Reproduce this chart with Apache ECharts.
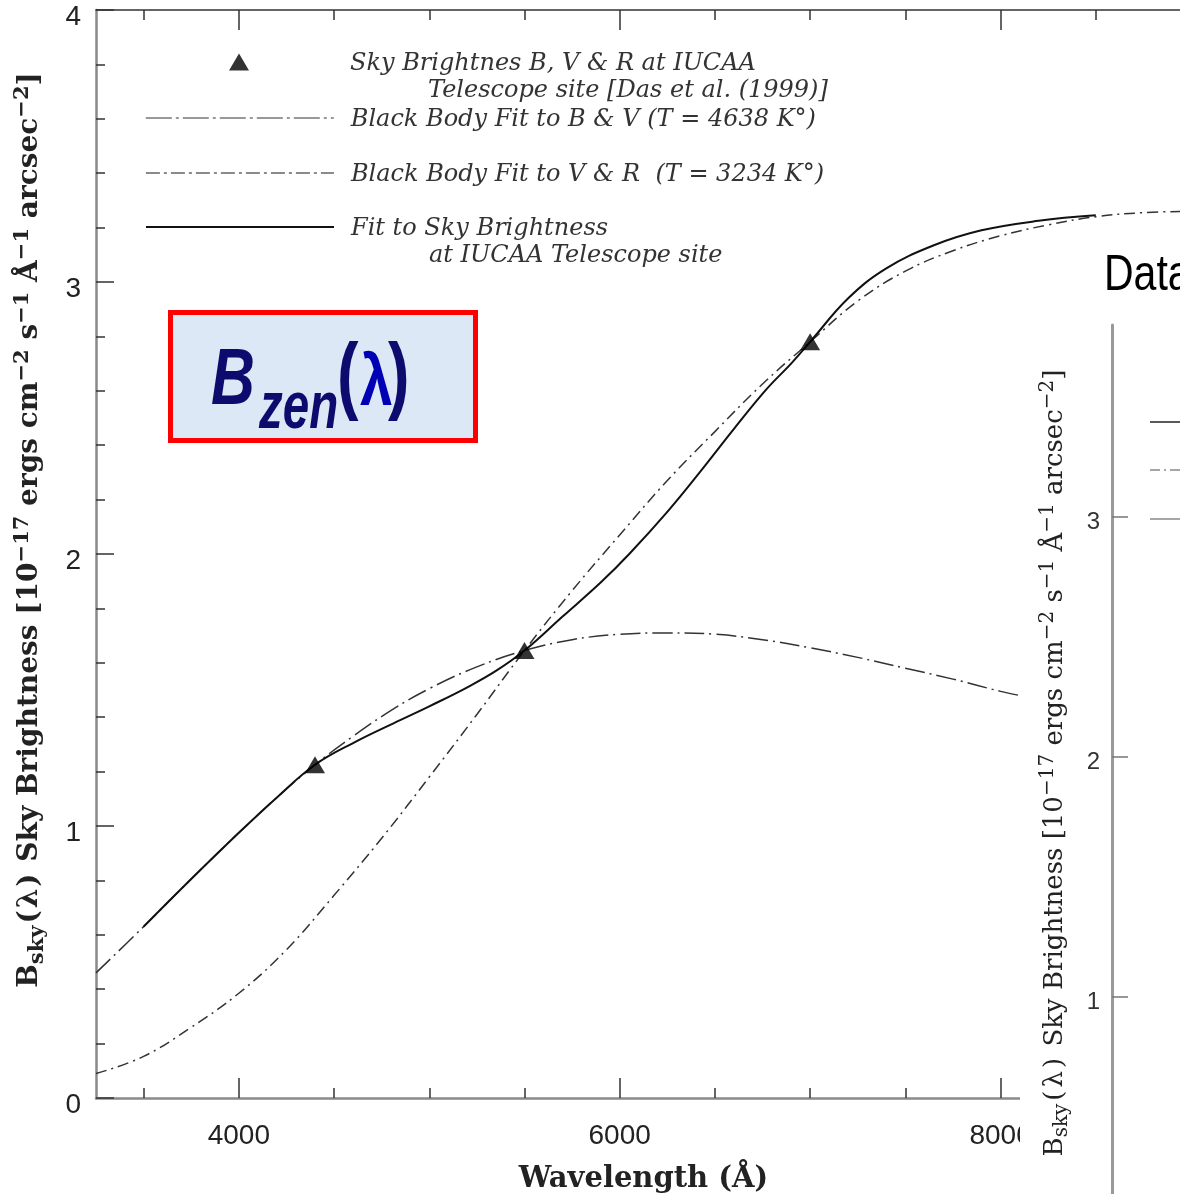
<!DOCTYPE html>
<html>
<head>
<meta charset="utf-8">
<script src="https://cdn.jsdelivr.net/npm/echarts@6/dist/echarts.min.js"></script>
<style>
  html, body { margin: 0; padding: 0; background: #ffffff; }
  #chart { width: 1180px; height: 1194px; }
</style>
</head>
<body>
<div id="chart"></div>
<script>
// Sky brightness at the IUCAA telescope site, 10^-17 ergs cm^-2 s^-1 Å^-1 arcsec^-2 vs wavelength (Å)

// Broad-band measurements (B, V, R)
const bandWavelength = [4400, 5500, 7000];
const bandBrightness = [1.225, 1.645, 2.78];

// Black body fit to B & V (T = 4638 K)
const bbBVWavelength = [3250, 3500, 3750, 4000, 4200, 4400, 4600, 4800, 5000, 5250, 5500, 5750,
                        6000, 6250, 6500, 6750, 7000, 7250, 7500, 7750, 8000, 8100];
const bbBVValue      = [0.46, 0.63, 0.805, 0.975, 1.105, 1.225, 1.33, 1.425, 1.505, 1.585, 1.645, 1.685,
                        1.705, 1.71, 1.705, 1.685, 1.655, 1.62, 1.58, 1.54, 1.495, 1.48];

// Black body fit to V & R (T = 3234 K)
const bbVRWavelength = [3250, 3500, 3750, 4000, 4250, 4500, 4750, 5000, 5250, 5500, 5750, 6000,
                        6250, 6500, 6750, 7000, 7250, 7500, 7750, 8000, 8250, 8500, 8750, 9000];
const bbVRValue      = [0.09, 0.153, 0.26, 0.385, 0.545, 0.745, 0.955, 1.18, 1.41, 1.645, 1.865, 2.07,
                        2.27, 2.45, 2.625, 2.78, 2.93, 3.04, 3.115, 3.17, 3.21, 3.24, 3.255, 3.26];

// Fit to the sky brightness
const fitWavelength = [3500, 3750, 4000, 4200, 4400, 4600, 4850, 5000, 5200, 5350, 5500, 5700,
                       5900, 6050, 6250, 6420, 6600, 6770, 6900, 7000, 7200, 7400, 7650, 7900, 8200, 8500];
const fitValue      = [0.63, 0.805, 0.975, 1.105, 1.225, 1.305, 1.39, 1.44, 1.51, 1.57, 1.645, 1.77,
                       1.895, 2.0, 2.155, 2.30, 2.46, 2.605, 2.70, 2.78, 2.94, 3.05, 3.135, 3.19, 3.225, 3.245];

// Axis ticks
const xMajorTicks = [4000, 6000, 8000];
const xMinorTicks = [3500, 4500, 5000, 5500, 6500, 7000, 7500, 8500];
const insetMajorTicks = [1, 2, 3];
const insetMinorTicks = [0.2, 0.4, 0.6, 0.8, 1.2, 1.4, 1.6, 1.8, 2.2, 2.4, 2.6, 2.8, 3.2, 3.4, 3.6];

// Legend entries
const seriesNames = [
  'Sky Brightnes B, V & R at IUCAA',
  'Black Body Fit to B & V (T = 4638 K°)',
  'Black Body Fit to V & R  (T = 3234 K°)',
  'Fit to Sky Brightness'
];
const legendSecondLines = ['Telescope site [Das et al. (1999)]', '', '', 'at IUCAA Telescope site'];

const pairs = (xs, ys) => xs.map((x, i) => [x, ys[i]]);

const chart = echarts.init(document.getElementById('chart'));

const tickFont = 'Liberation Sans, Arial, sans-serif';
const serifFont = 'DejaVu Serif, serif';
const legendFont = { fontFamily: serifFont, fontStyle: 'italic', fontSize: 24, color: '#333', lineHeight: 27 };

const dashBV = [20, 5, 2, 5];
const dashVR = [11, 5, 2, 5];

// One legend block per entry; the text column starts at x = 350
function legendFor(idx, symbolY, iconLeft, iconWidth, iconHeight, extra) {
  const twoLines = !!legendSecondLines[idx];
  const textPadLeft = 350 - (iconLeft + iconWidth + 5);
  return Object.assign({
    data: [seriesNames[idx]],
    left: iconLeft, top: symbolY - (twoLines ? 42.5 : 15.5), padding: 0,
    itemWidth: iconWidth, itemHeight: iconHeight, itemGap: 0,
    formatter: function (name) {
      const i = seriesNames.indexOf(name);
      return legendSecondLines[i] ? '{a|' + name + '}\n{b|' + legendSecondLines[i] + '}' : '{a|' + name + '}';
    },
    textStyle: Object.assign({}, legendFont, {
      padding: twoLines ? [31, 0, 0, textPadLeft] : [4, 0, 0, textPadLeft],
      rich: {
        a: Object.assign({}, legendFont),
        b: Object.assign({}, legendFont, { padding: [0, 0, 0, 78] })
      }
    })
  }, extra || {});
}

function yTitleText() {
  return '{m|B}{sub|sky}{p|(}{m|λ}{p|)}{m| Sky Brightness [10}{sup|−17}{m| ergs cm}{sup|−2}{m| s}{sup|−1}' +
         '{m| Å}{sup|−1}{m| arcsec}{sup|−2}{m|]}';
}
function yTitleRich(size, small, weight, parenPad) {
  const base = { fontFamily: serifFont, fontWeight: weight, fill: '#222' };
  return {
    m: Object.assign({ fontSize: size, lineHeight: size + 8 }, base),
    p: Object.assign({ fontSize: size, lineHeight: size + 8, padding: [0, parenPad, 0, parenPad] }, base),
    sup: Object.assign({ fontSize: small, lineHeight: small, verticalAlign: 'top' }, base),
    sub: Object.assign({ fontSize: small, lineHeight: small, verticalAlign: 'bottom' }, base)
  };
}

const option = {
  animation: false,
  backgroundColor: '#ffffff',
  grid: [
    { left: 96, top: 10, width: 1095, height: 1088, outerBoundsMode: 'none', containLabel: false },
    { left: 1112, top: 325, width: 964, height: 912, outerBoundsMode: 'none', containLabel: false }
  ],
  xAxis: [
    { // main, bottom, major ticks + labels
      type: 'value', gridIndex: 0, position: 'bottom', min: 3250, max: 9000,
      axisLine: { lineStyle: { color: '#8a8a8a', width: 2.5 } },
      axisTick: { inside: true, length: 20, customValues: xMajorTicks, lineStyle: { color: '#333', width: 1.5 } },
      axisLabel: { customValues: xMajorTicks, formatter: v => String(v), fontFamily: tickFont, fontSize: 28, color: '#222', margin: 24 },
      splitLine: { show: false },
      name: 'Wavelength (Å)', nameLocation: 'middle', nameGap: 67,
      nameTextStyle: { fontFamily: serifFont, fontWeight: 'bold', fontSize: 29, color: '#222' }
    },
    { // main, bottom, minor ticks
      type: 'value', gridIndex: 0, position: 'bottom', min: 3250, max: 9000,
      axisLine: { show: false },
      axisTick: { inside: true, length: 10, customValues: xMinorTicks, lineStyle: { color: '#333', width: 1.5 } },
      axisLabel: { show: false }, splitLine: { show: false }
    },
    { // main, top, major ticks
      type: 'value', gridIndex: 0, position: 'top', min: 3250, max: 9000,
      axisLine: { lineStyle: { color: '#333', width: 1.5 } },
      axisTick: { inside: true, length: 20, customValues: xMajorTicks, lineStyle: { color: '#333', width: 1.5 } },
      axisLabel: { show: false }, splitLine: { show: false }
    },
    { // main, top, minor ticks
      type: 'value', gridIndex: 0, position: 'top', min: 3250, max: 9000,
      axisLine: { show: false },
      axisTick: { inside: true, length: 10, customValues: xMinorTicks, lineStyle: { color: '#333', width: 1.5 } },
      axisLabel: { show: false }, splitLine: { show: false }
    },
    { // inset, top
      type: 'value', gridIndex: 1, position: 'top', min: 3250, max: 9000, zlevel: 1, z: 5,
      axisLine: { lineStyle: { color: '#333', width: 1.5 } },
      axisTick: { inside: true, length: 9, customValues: xMinorTicks, lineStyle: { color: '#333', width: 1.2 } },
      axisLabel: { show: false }, splitLine: { show: false }
    }
  ],
  yAxis: [
    { // main, left
      type: 'value', gridIndex: 0, min: 0, max: 4, interval: 1,
      axisLine: { lineStyle: { color: '#8a8a8a', width: 2.5 } },
      axisTick: { inside: true, length: 18, lineStyle: { color: '#333', width: 1.5 } },
      minorTick: { show: true, splitNumber: 5, length: 9, lineStyle: { color: '#333', width: 1.5 } },
      axisLabel: { fontFamily: tickFont, fontSize: 28, color: '#222', margin: 15, verticalAlign: 'top', lineHeight: 14 },
      splitLine: { show: false }
    },
    { // inset, left, major ticks + labels
      type: 'value', gridIndex: 1, min: 0, max: 3.8, zlevel: 1, z: 5,
      axisLine: { lineStyle: { color: '#999', width: 3 } },
      axisTick: { inside: true, length: 16, customValues: insetMajorTicks, lineStyle: { color: '#777', width: 1.5 } },
      axisLabel: { customValues: insetMajorTicks, fontFamily: tickFont, fontSize: 24, color: '#333', margin: 12, verticalAlign: 'top', lineHeight: 10 },
      splitLine: { show: false }
    },
    { // inset, left, minor ticks
      type: 'value', gridIndex: 1, min: 0, max: 3.8, zlevel: 1, z: 5,
      axisLine: { show: false },
      axisTick: { inside: true, length: 8, customValues: insetMinorTicks, lineStyle: { color: '#777', width: 1.5 } },
      axisLabel: { show: false }, splitLine: { show: false }
    }
  ],
  legend: [
    legendFor(0, 62, 229, 20, 17),
    legendFor(1, 118, 145, 188, 18, { itemStyle: { opacity: 0 }, lineStyle: { color: '#777', width: 1.6, type: [26, 4, 3, 4] } }),
    legendFor(2, 173, 145, 188, 18, { itemStyle: { opacity: 0 }, lineStyle: { color: '#8a8a8a', width: 1.8, type: [14, 4, 3, 4] } }),
    legendFor(3, 227, 145, 188, 18, { itemStyle: { opacity: 0 }, lineStyle: { color: '#111', width: 2 } })
  ],
  series: [
    {
      name: seriesNames[0], type: 'scatter', xAxisIndex: 0, yAxisIndex: 0,
      symbol: 'triangle', symbolSize: [20, 17],
      itemStyle: { color: '#000' }, z: 5,
      data: pairs(bandWavelength, bandBrightness)
    },
    {
      name: seriesNames[1], type: 'line', xAxisIndex: 0, yAxisIndex: 0,
      symbol: 'none', smooth: 0.4,
      itemStyle: { color: '#3a3a3a' },
      lineStyle: { color: '#333', width: 1.5, type: dashBV },
      data: pairs(bbBVWavelength, bbBVValue)
    },
    {
      name: seriesNames[2], type: 'line', xAxisIndex: 0, yAxisIndex: 0,
      symbol: 'none', smooth: 0.4,
      itemStyle: { color: '#3a3a3a' },
      lineStyle: { color: '#333', width: 1.5, type: dashVR },
      data: pairs(bbVRWavelength, bbVRValue)
    },
    {
      name: seriesNames[3], type: 'line', xAxisIndex: 0, yAxisIndex: 0,
      symbol: 'none', smooth: 0.4, z: 4,
      itemStyle: { color: '#111' },
      lineStyle: { color: '#111', width: 2 },
      data: pairs(fitWavelength, fitValue)
    }
  ],
  graphic: { elements: [
    // main vertical axis title
    {
      type: 'text', x: 30, y: 530, rotation: Math.PI / 2,
      style: { text: yTitleText(), align: 'center', verticalAlign: 'middle', rich: yTitleRich(28, 21, 'bold', 2) }
    },
    // B_zen(λ) label box
    {
      type: 'group',
      children: [
        { type: 'rect', shape: { x: 170.5, y: 312.5, width: 305, height: 128 },
          style: { fill: '#dce8f5', stroke: '#ff0000', lineWidth: 5 } },
        { type: 'text', x: 211, y: 382, scaleX: 0.76,
          style: { text: 'B', font: 'italic bold 80px Liberation Sans', fill: '#0c0c6e', align: 'left', verticalAlign: 'middle' } },
        { type: 'text', x: 259, y: 410, scaleX: 0.72,
          style: { text: 'zen', font: 'italic bold 66px Liberation Sans', fill: '#0c0c6e', align: 'left', verticalAlign: 'middle' } },
        { type: 'text', x: 337, y: 380, scaleX: 0.76,
          style: { text: '(', font: 'bold 85px Liberation Sans', fill: '#0c0c6e', align: 'left', verticalAlign: 'middle' } },
        { type: 'text', x: 360, y: 385, scaleX: 0.8,
          style: { text: 'λ', font: 'bold 73px Liberation Sans', fill: '#0000b4', align: 'left', verticalAlign: 'middle' } },
        { type: 'text', x: 388, y: 380, scaleX: 0.76,
          style: { text: ')', font: 'bold 85px Liberation Sans', fill: '#0c0c6e', align: 'left', verticalAlign: 'middle' } }
      ]
    },
    // inset panel
    { type: 'rect', zlevel: 1, z: 1, shape: { x: 1020, y: 237, width: 200, height: 1000 }, style: { fill: '#ffffff' } },
    { type: 'text', zlevel: 1, z: 10, x: 1104, y: 276, scaleX: 0.82,
      style: { text: 'Data', font: '50px Liberation Sans', fill: '#000', align: 'left', verticalAlign: 'middle' } },
    { type: 'text', zlevel: 1, z: 10, x: 1055, y: 763, rotation: Math.PI / 2,
      style: { text: yTitleText(), align: 'center', verticalAlign: 'middle', rich: yTitleRich(26, 20, 'normal', 3) } },
    { type: 'line', zlevel: 1, z: 10, shape: { x1: 1150, y1: 422, x2: 1190, y2: 422 }, style: { stroke: '#222', lineWidth: 1.5 } },
    { type: 'line', zlevel: 1, z: 10, shape: { x1: 1150, y1: 470, x2: 1190, y2: 470 }, style: { stroke: '#888', lineWidth: 1.5, lineDash: [10, 4, 2, 4] } },
    { type: 'line', zlevel: 1, z: 10, shape: { x1: 1150, y1: 519, x2: 1190, y2: 519 }, style: { stroke: '#888', lineWidth: 1.5 } }
  ] }
};

chart.setOption(option);
</script>
</body>
</html>
